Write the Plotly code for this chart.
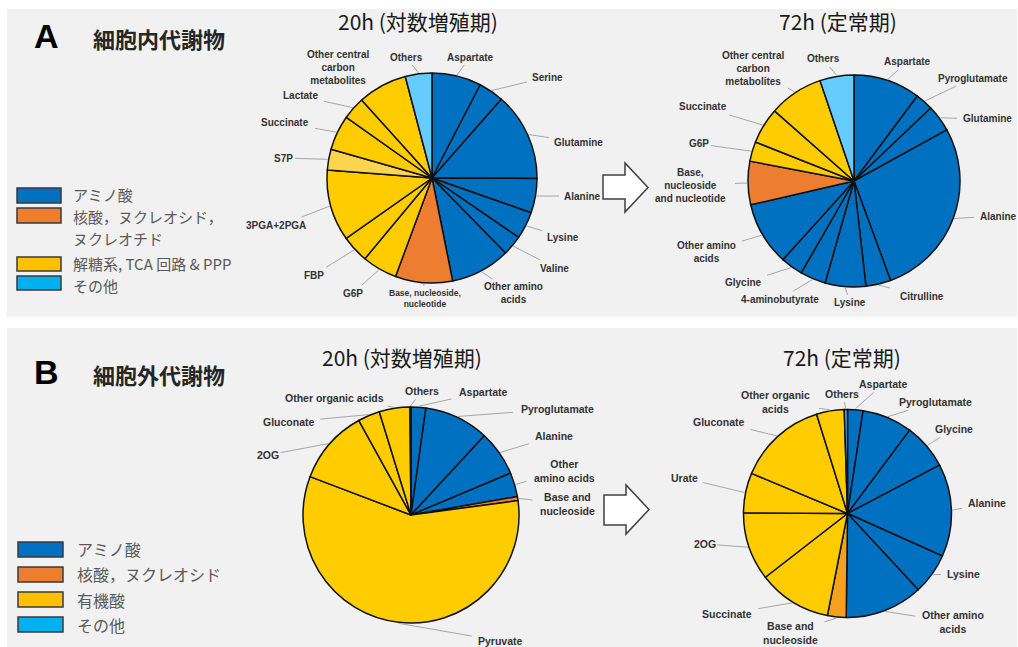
import math
import plotly.graph_objects as go

W, H = 1018, 647

# ---------------- data ----------------
A20_LABELS = ["Aspartate", "Serine", "Glutamine", "Alanine", "Lysine", "Valine",
              "Other amino acids", "Base, nucleoside, nucleotide", "G6P", "FBP",
              "3PGA+2PGA", "S7P", "Succinate", "Lactate",
              "Other central carbon metabolites", "Others"]
A20_VALUES = [7.6, 3.9, 13.6, 5.3, 4.2, 3.1, 9.2, 8.8, 5.4, 4.2, 11.0, 3.2, 5.4, 3.5, 7.6, 4.1]
A20_GROUPS = ["amino"] * 7 + ["nucleic"] + ["glyco"] * 7 + ["other"]

A72_LABELS = ["Aspartate", "Pyroglutamate", "Glutamine", "Alanine", "Citrulline", "Lysine",
              "4-aminobutyrate", "Glycine", "Other amino acids",
              "Base, nucleoside and nucleotide", "G6P", "Succinate",
              "Other central carbon metabolites", "Others"]
A72_VALUES = [10.2, 2.7, 4.1, 27.4, 3.8, 6.2, 3.9, 3.4, 9.7, 6.6, 3.0, 5.5, 8.3, 5.2]
A72_GROUPS = ["amino"] * 9 + ["nucleic"] + ["glyco"] * 3 + ["other"]

B20_LABELS = ["Aspartate", "Pyroglutamate", "Alanine", "Other amino acids",
              "Base and nucleoside", "Pyruvate", "2OG", "Gluconate",
              "Other organic acids", "Others"]
B20_VALUES = [2.2, 9.7, 6.8, 3.6, 0.6, 58.0, 11.2, 3.3, 4.6, 0.15]
B20_GROUPS = ["amino"] * 4 + ["nucleic"] + ["organic"] * 4 + ["other"]

B72_LABELS = ["Aspartate", "Pyroglutamate", "Glycine", "Alanine", "Lysine",
              "Other amino acids", "Base and nucleoside", "Succinate", "2OG", "Urate",
              "Gluconate", "Other organic acids", "Others"]
B72_VALUES = [2.4, 7.8, 7.1, 14.4, 6.4, 12.1, 2.9, 11.4, 10.6, 6.2, 13.9, 4.3, 0.5]
B72_GROUPS = ["amino"] * 6 + ["nucleic"] + ["organic"] * 5 + ["other"]

LEGEND_A = ["アミノ酸", "核酸，ヌクレオシド，", "ヌクレオチド", "解糖系, TCA 回路 & PPP", "その他"]
LEGEND_A_BOX = [0, 1, None, 2, 3]
LEGEND_B = ["アミノ酸", "核酸，ヌクレオシド", "有機酸", "その他"]
LEGEND_B_BOX = [0, 1, 2, 3]
TITLES = ["20h (対数増殖期)", "72h (定常期)", "20h (対数増殖期)", "72h (定常期)"]

# ---------------- style / layout ----------------
PIE_COLORS = {"amino": "#0070C0", "nucleic": "#ED7D31", "glyco": "#FFCC00",
              "organic": "#FFCC00", "other": "#66CCFF"}
SLICE_OVERRIDE = {("A20", "S7P"): "#FFD54F", ("B72", "Base and nucleoside"): "#F5A01E",
                  ("B72", "Others"): "#33B5F0"}
LEG_COLORS = ["#0070C0", "#ED7D31", "#FFC000", "#00B0F0"]

PIE_GEOM = {"A20": (432, 178, 105), "A72": (854, 181, 106),
            "B20": (411, 515, 108), "B72": (847.5, 513.5, 104)}

DISPLAY = {
    "Other amino acids": "Other amino<br>acids",
    "Base, nucleoside, nucleotide": "Base, nucleoside,<br>nucleotide",
    "Other central carbon metabolites": "Other central<br>carbon<br>metabolites",
    "Base, nucleoside and nucleotide": "Base,<br>nucleoside<br>and nucleotide",
}
DISPLAY_B = {"Other amino acids": "Other<br>amino acids", "Base and nucleoside": "Base and<br>nucleoside"}
DISPLAY_B72 = {"Other amino acids": "Other amino<br>acids", "Base and nucleoside": "Base and<br>nucleoside",
               "Other organic acids": "Other organic<br>acids"}

LABEL_POS = {
    "A20": {"Aspartate": (470, 57, "center"), "Serine": (530, 77, "left"),
            "Glutamine": (552, 142, "left"), "Alanine": (562, 196, "left"),
            "Lysine": (545, 237, "left"), "Valine": (538, 268, "left"),
            "Other amino acids": (513, 293, "center"),
            "Base, nucleoside, nucleotide": (425, 298, "center"),
            "G6P": (353, 293, "center"), "FBP": (314, 275, "center"),
            "3PGA+2PGA": (308, 225, "right"), "S7P": (283, 158, "center"),
            "Succinate": (285, 123, "center"), "Lactate": (300, 96, "center"),
            "Other central carbon metabolites": (338, 67, "center"),
            "Others": (406, 57, "center")},
    "A72": {"Aspartate": (907, 62, "center"), "Pyroglutamate": (973, 78, "center"),
            "Glutamine": (987, 119, "center"), "Alanine": (998, 216, "center"),
            "Citrulline": (922, 296, "center"), "Lysine": (850, 303, "center"),
            "4-aminobutyrate": (780, 299, "center"), "Glycine": (743, 283, "center"),
            "Other amino acids": (706, 252, "center"),
            "Base, nucleoside and nucleotide": (690, 185, "center"),
            "G6P": (699, 144, "center"), "Succinate": (703, 107, "center"),
            "Other central carbon metabolites": (753, 68, "center"),
            "Others": (823, 59, "center")},
    "B20": {"Aspartate": (483, 392, "center"), "Pyroglutamate": (557, 409, "center"),
            "Alanine": (554, 436, "center"), "Other amino acids": (564, 471, "center"),
            "Base and nucleoside": (567, 504, "center"), "Pyruvate": (500, 641, "center"),
            "2OG": (268, 455, "center"), "Gluconate": (289, 422, "center"),
            "Other organic acids": (334, 398, "center"), "Others": (422, 391, "center")},
    "B72": {"Aspartate": (883, 384, "center"), "Pyroglutamate": (935, 402, "center"),
            "Glycine": (954, 429, "center"), "Alanine": (987, 503, "center"),
            "Lysine": (963, 574, "center"), "Other amino acids": (953, 622, "center"),
            "Base and nucleoside": (790, 633, "center"), "Succinate": (727, 614, "center"),
            "2OG": (705, 544, "center"), "Urate": (684, 478, "center"),
            "Gluconate": (719, 422, "center"), "Other organic acids": (775, 402, "center"),
            "Others": (842, 394, "center")},
}
LABEL_FS = {"A20": 10, "A72": 10, "B20": 10.5, "B72": 10.5}
SMALL_LABELS = {("A20", "Base, nucleoside, nucleotide"): 8.5}

LABEL_FONT = "Arial, Liberation Sans, sans-serif"
JP_FONT = "Noto Sans CJK JP"


def px(x):
    return x / W


def py(y):
    return 1 - y / H


fig = go.Figure()
shapes = []
annotations = []

# panel backgrounds
for (y0, y1) in [(9, 317), (328, 647)]:
    shapes.append(dict(type="rect", xref="paper", yref="paper", x0=px(7), x1=px(1017),
                       y0=py(y1), y1=py(y0), fillcolor="#F1F1F1", line=dict(width=0), layer="below"))

pies = [("A20", A20_LABELS, A20_VALUES, A20_GROUPS),
        ("A72", A72_LABELS, A72_VALUES, A72_GROUPS),
        ("B20", B20_LABELS, B20_VALUES, B20_GROUPS),
        ("B72", B72_LABELS, B72_VALUES, B72_GROUPS)]

for key, labels, values, groups in pies:
    cx, cy, r = PIE_GEOM[key]
    colors = [SLICE_OVERRIDE.get((key, l), PIE_COLORS[g]) for l, g in zip(labels, groups)]
    fig.add_trace(go.Pie(
        labels=labels, values=values, sort=False, direction="clockwise", rotation=0,
        textinfo="none", hoverinfo="label+percent", showlegend=False,
        marker=dict(colors=colors, line=dict(color="#111111", width=1.5)),
        domain=dict(x=[px(cx - r), px(cx + r)], y=[py(cy + r), py(cy - r)]),
    ))
    total = sum(values)
    cum = 0.0
    fs = LABEL_FS[key]
    for lab, v in zip(labels, values):
        mid = (cum + v / 2) / total * 2 * math.pi
        cum += v
        if lab not in LABEL_POS[key]:
            continue
        lx, ly, anc = LABEL_POS[key][lab]
        f = SMALL_LABELS.get((key, lab), fs)
        if key.startswith("A"):
            txt = DISPLAY.get(lab, lab)
        elif key == "B20":
            txt = DISPLAY_B.get(lab, lab)
        else:
            txt = DISPLAY_B72.get(lab, lab)
        lines = txt.split("<br>")
        w = max(len(s) for s in lines) * 0.6 * f
        h = len(lines) * f * 1.2
        bx = lx + w / 2 if anc == "left" else (lx - w / 2 if anc == "right" else lx)
        sx = cx + (r + 1) * math.sin(mid)
        sy = cy - (r + 1) * math.cos(mid)
        dx, dy = bx - sx, ly - sy
        hw, hh = w / 2 + 3, h / 2 + 2
        tx = 1 - hw / abs(dx) if abs(dx) > 1e-6 else -1e9
        ty = 1 - hh / abs(dy) if abs(dy) > 1e-6 else -1e9
        t = max(tx, ty)
        if t > 0.05:
            shapes.append(dict(type="line", xref="paper", yref="paper",
                               x0=px(sx), y0=py(sy), x1=px(sx + t * dx), y1=py(sy + t * dy),
                               line=dict(color="#A6A6A6", width=1)))
        annotations.append(dict(x=px(lx), y=py(ly), xref="paper", yref="paper", text="<b>" + txt + "</b>",
                                showarrow=False, xanchor=anc, yanchor="middle", align="center",
                                font=dict(family=LABEL_FONT, size=f, color="#333333")))

# titles
for t, (x, y) in zip(TITLES, [(418, 21), (838, 21), (402, 357), (842, 357)]):
    annotations.append(dict(x=px(x), y=py(y), xref="paper", yref="paper", text=t, showarrow=False,
                            xanchor="center", yanchor="middle",
                            font=dict(family=JP_FONT, size=21, color="#1A1A1A")))

# panel letters and headings
for letter, head, y in [("A", "細胞内代謝物", 36), ("B", "細胞外代謝物", 372)]:
    annotations.append(dict(x=px(46), y=py(y), xref="paper", yref="paper", text="<b>" + letter + "</b>",
                            showarrow=False, xanchor="center", yanchor="middle",
                            font=dict(family="Arial, Liberation Sans", size=34, color="#000000")))
    annotations.append(dict(x=px(91), y=py(y + 2), xref="paper", yref="paper", text="<b>" + head + "</b>",
                            showarrow=False, xanchor="left", yanchor="middle",
                            font=dict(family=JP_FONT, size=22, color="#262626")))


# legends
def legend(items, box_idx, box_ys, text_ys, x0, x1, tx, fsize):
    bi = 0
    for it, idx, ty in zip(items, box_idx, text_ys):
        if idx is not None:
            b0, b1 = box_ys[bi]
            bi += 1
            shapes.append(dict(type="rect", xref="paper", yref="paper", x0=px(x0), x1=px(x1),
                               y0=py(b1), y1=py(b0), fillcolor=LEG_COLORS[idx],
                               line=dict(color="#3A3A3A", width=1.5)))
        annotations.append(dict(x=px(tx), y=py(ty), xref="paper", yref="paper", text=it, showarrow=False,
                                xanchor="left", yanchor="middle", align="left", borderpad=0,
                                font=dict(family=JP_FONT, size=fsize, color="#595959")))


legend(LEGEND_A, LEGEND_A_BOX, [(188, 203), (208, 223), (257, 271), (276, 290)],
       [195, 216.5, 238.5, 263.5, 285.5], 17, 61, 72, 15)
legend(LEGEND_B, LEGEND_B_BOX, [(542, 557), (567, 582), (592, 607), (617, 632)],
       [549, 574, 600, 625], 18, 63, 76, 16)

# arrows
for (bx0, bx1, by0, by1, hy0, hy1, tipx) in [(603, 625, 175, 199, 163, 212, 648),
                                             (604, 626, 495, 525, 485, 534, 649)]:
    ym = (hy0 + hy1) / 2
    pts = [(bx0, by0), (bx1, by0), (bx1, hy0), (tipx, ym), (bx1, hy1), (bx1, by1), (bx0, by1)]
    path = "M " + " L ".join(f"{px(a):.5f},{py(b):.5f}" for a, b in pts) + " Z"
    shapes.append(dict(type="path", xref="paper", yref="paper", path=path, fillcolor="#FFFFFF",
                       line=dict(color="#404040", width=1.5)))

fig.update_layout(width=W, height=H, margin=dict(l=0, r=0, t=0, b=0),
                  paper_bgcolor="#FFFFFF", plot_bgcolor="#FFFFFF",
                  shapes=shapes, annotations=annotations, showlegend=False)
fig.write_html("out.html")
